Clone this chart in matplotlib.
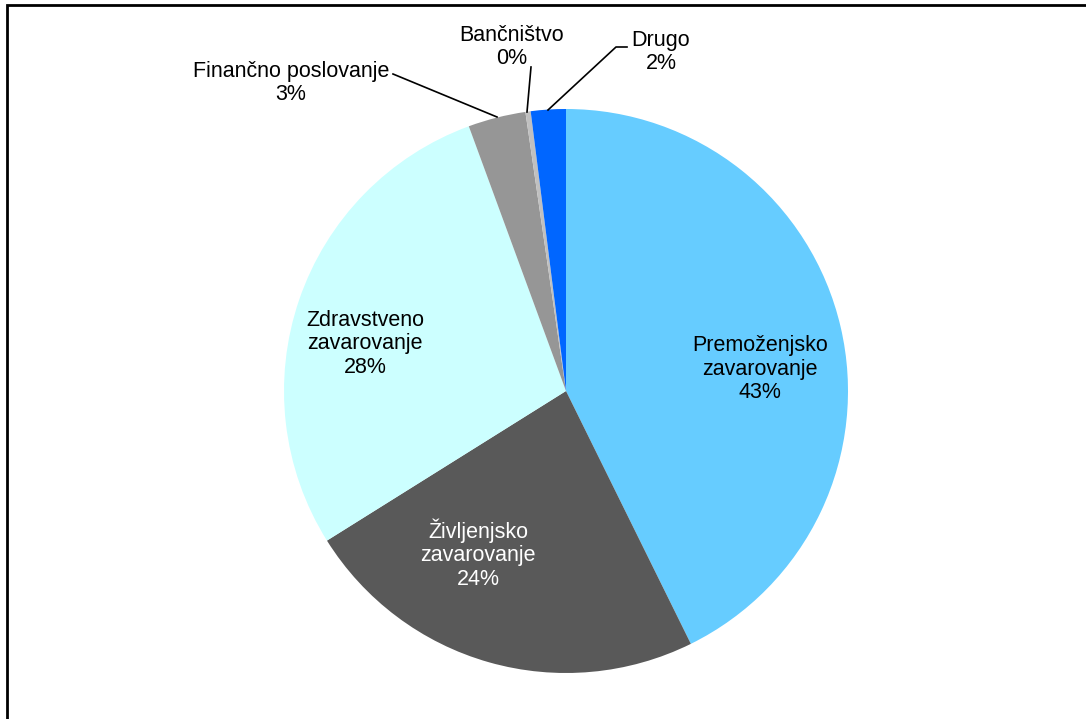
import matplotlib.pyplot as plt
from matplotlib.patches import Rectangle

# %% data
labels = ['Premoženjsko\nzavarovanje', 'Življenjsko\nzavarovanje', 'Zdravstveno\nzavarovanje',
          'Finančno poslovanje', 'Bančništvo', 'Drugo']
shares = [42.7, 23.4, 28.3, 3.3, 0.3, 2.0]
pct_text = ['43%', '24%', '28%', '3%', '0%', '2%']
colors = ['#66CCFF', '#595959', '#CCFFFF', '#969696', '#C0C0C0', '#0066FF']

plt.rcParams['font.family'] = ['Liberation Sans', 'DejaVu Sans']

# %% figure in pixel coords (y measured from bottom)
H = 719
fig = plt.figure(figsize=(10.86, 7.19), dpi=100)
ax = fig.add_axes([0, 0, 1, 1])
ax.set_xlim(0, 1086)
ax.set_ylim(0, H)
ax.set_aspect('equal')
ax.axis('off')

ax.add_patch(Rectangle((7, -20), 1120, H - 5 + 20, fill=False, edgecolor='black', linewidth=2))

ax.pie(shares, colors=colors, startangle=90, counterclock=False,
       center=(566, H - 391), radius=282, wedgeprops={'linewidth': 0})
ax.set_xlim(0, 1086)
ax.set_ylim(0, H)

fs = 15.5
ls = 1.16
# labels inside the pie
ax.text(760, H - 369, labels[0] + '\n' + pct_text[0], ha='center', va='center', fontsize=fs, linespacing=ls)
ax.text(478, H - 554, labels[1] + '\n' + pct_text[1], ha='center', va='center', fontsize=fs,
        linespacing=ls, color='white')
ax.text(365, H - 344, labels[2] + '\n' + pct_text[2], ha='center', va='center', fontsize=fs, linespacing=ls)

# labels outside with leader lines
ax.text(291, H - 83, labels[3] + '\n' + pct_text[3], ha='center', va='center', fontsize=fs, linespacing=ls)
ax.plot([393, 497], [H - 74, H - 117], color='black', lw=1.2)
ax.text(512, H - 47, labels[4] + '\n' + pct_text[4], ha='center', va='center', fontsize=fs, linespacing=ls)
ax.plot([531, 527], [H - 67, H - 112], color='black', lw=1.2)
ax.text(661, H - 52, labels[5] + '\n' + pct_text[5], ha='center', va='center', fontsize=fs, linespacing=ls)
ax.plot([548, 616, 627], [H - 110, H - 47, H - 47], color='black', lw=1.2)

fig.savefig('out.png', dpi=100)
